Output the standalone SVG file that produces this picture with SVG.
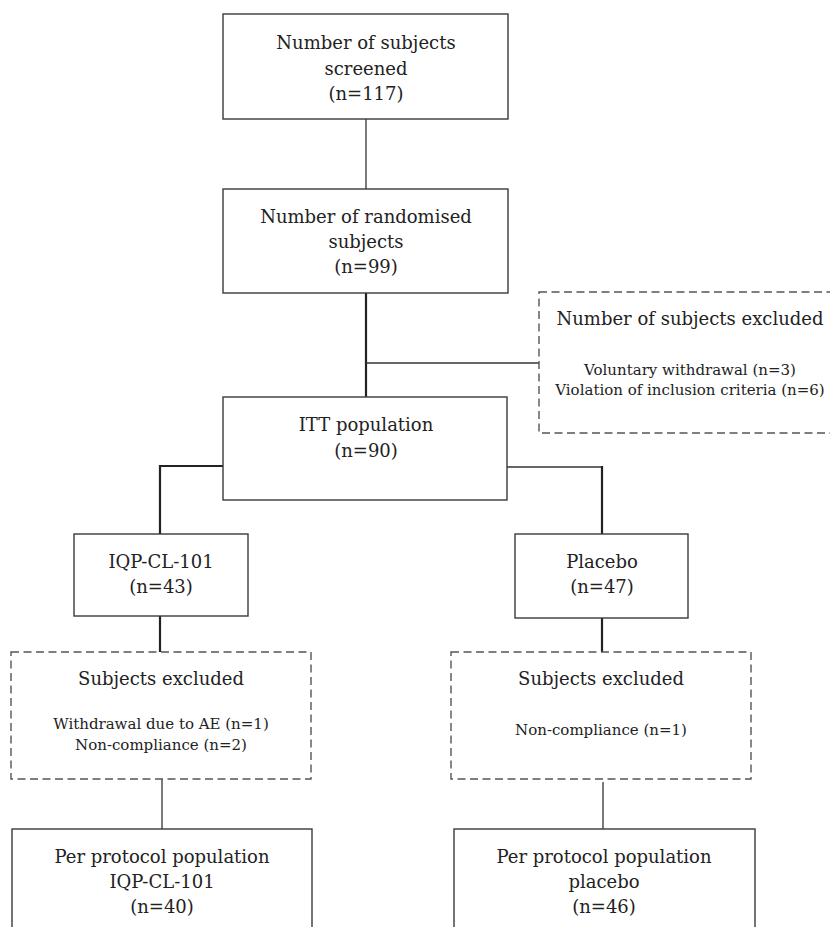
<svg xmlns="http://www.w3.org/2000/svg" width="830" height="927" viewBox="0 0 830 927">
<style>
  .box { fill: #ffffff; stroke: #3a3a3a; stroke-width: 1.4; }
  .dash { fill: #ffffff; stroke: #555555; stroke-width: 1.4; stroke-dasharray: 8 4.5; }
  .t { font-family: "DejaVu Serif", "Liberation Serif", serif; font-size: 18px; fill: #222222; text-anchor: middle; }
  .s { font-family: "DejaVu Serif", "Liberation Serif", serif; font-size: 15px; fill: #222222; text-anchor: middle; }
  .thin { fill: none; stroke: #333333; stroke-width: 1.3; }
  .thick { fill: none; stroke: #222222; stroke-width: 2.2; }
</style>
<rect width="830" height="927" fill="#ffffff"/>
<g id="connectors">
  <line class="thin" x1="366" y1="119" x2="366" y2="189"/>
  <line class="thick" x1="366" y1="293" x2="366" y2="397"/>
  <line class="thin" x1="366" y1="363" x2="539" y2="363"/>
  <polyline class="thick" points="223,466 160,466 160,534"/>
  <polyline class="thin" points="507,467 602,467"/>
  <line class="thick" x1="602" y1="466" x2="602" y2="534"/>
  <line class="thick" x1="160" y1="616" x2="160" y2="652"/>
  <line class="thick" x1="602" y1="618" x2="602" y2="652"/>
  <line class="thin" x1="162" y1="779" x2="162" y2="829"/>
  <line class="thin" x1="603" y1="782" x2="603" y2="829"/>
</g>
<g id="screened">
  <rect class="box" x="223" y="14" width="285" height="105"/>
  <text class="t" x="366" y="49">Number of subjects</text>
  <text class="t" x="366" y="75">screened</text>
  <text class="t" x="366" y="100">(n=117)</text>
</g>
<g id="randomised">
  <rect class="box" x="223" y="189" width="285" height="104"/>
  <text class="t" x="366" y="223">Number of randomised</text>
  <text class="t" x="366" y="248">subjects</text>
  <text class="t" x="366" y="273">(n=99)</text>
</g>
<g id="excluded-top">
  <rect class="dash" x="539" y="292" width="310" height="141"/>
  <text class="t" x="690" y="325">Number of subjects excluded</text>
  <text class="s" x="690" y="375">Voluntary withdrawal (n=3)</text>
  <text class="s" x="690" y="395">Violation of inclusion criteria (n=6)</text>
</g>
<g id="itt">
  <rect class="box" x="223" y="397" width="284" height="103"/>
  <text class="t" x="366" y="431">ITT population</text>
  <text class="t" x="366" y="457">(n=90)</text>
</g>
<g id="iqp">
  <rect class="box" x="74" y="534" width="174" height="82"/>
  <text class="t" x="161" y="568">IQP-CL-101</text>
  <text class="t" x="161" y="593">(n=43)</text>
</g>
<g id="placebo">
  <rect class="box" x="515" y="534" width="173" height="84"/>
  <text class="t" x="602" y="568">Placebo</text>
  <text class="t" x="602" y="593">(n=47)</text>
</g>
<g id="excluded-iqp">
  <rect class="dash" x="11" y="652" width="300" height="127"/>
  <text class="t" x="161" y="685">Subjects excluded</text>
  <text class="s" x="161" y="729">Withdrawal due to AE (n=1)</text>
  <text class="s" x="161" y="750">Non-compliance (n=2)</text>
</g>
<g id="excluded-placebo">
  <rect class="dash" x="451" y="652" width="300" height="127"/>
  <text class="t" x="601" y="685">Subjects excluded</text>
  <text class="s" x="601" y="735">Non-compliance (n=1)</text>
</g>
<g id="pp-iqp">
  <rect class="box" x="12" y="829" width="300" height="110"/>
  <text class="t" x="162" y="863">Per protocol population</text>
  <text class="t" x="162" y="888">IQP-CL-101</text>
  <text class="t" x="162" y="913">(n=40)</text>
</g>
<g id="pp-placebo">
  <rect class="box" x="454" y="829" width="301" height="110"/>
  <text class="t" x="604" y="863">Per protocol population</text>
  <text class="t" x="604" y="888">placebo</text>
  <text class="t" x="604" y="913">(n=46)</text>
</g>
</svg>
